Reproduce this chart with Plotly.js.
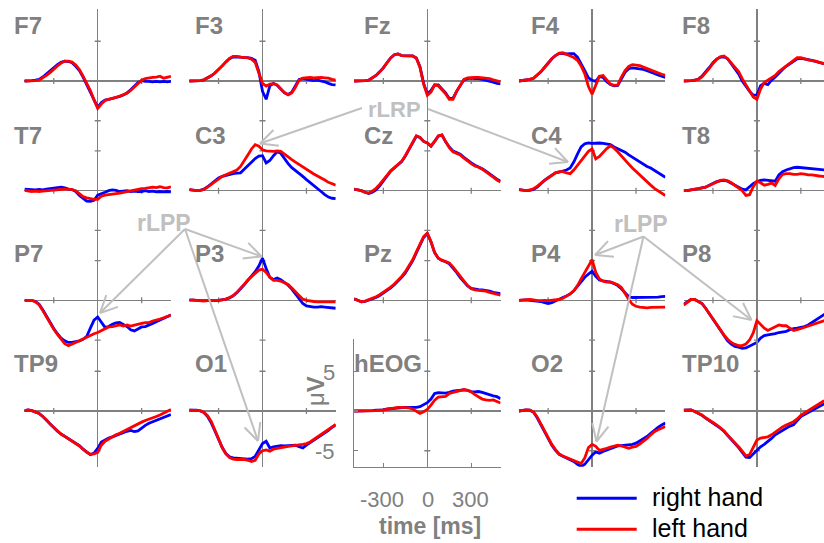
<!DOCTYPE html>
<html>
<head>
<meta charset="utf-8">
<script src="https://cdn.plot.ly/plotly-3.0.1.min.js"></script>
<style>
  html, body { margin: 0; padding: 0; background: #ffffff; }
  #chart { width: 824px; height: 543px; }
</style>
</head>
<body>
<div id="chart"></div>
<script>
// Time axis of the averaged epochs (ms, response-locked)
const time = [-500,-475,-450,-425,-400,-375,-350,-325,-300,-275,-250,-225,-200,-175,-150,-125,-100,-75,-50,-25,0,
              25,50,75,100,125,150,175,200,225,250,275,300,325,350,375,400,425,450,475,500];

// Electrode layout, row by row
const channels = ['F7','F3','Fz','F4','F8',
                  'T7','C3','Cz','C4','T8',
                  'P7','P3','Pz','P4','P8',
                  'TP9','O1','hEOG','O2','TP10'];

// Grand-average amplitudes (µV)
const F7_right = [0,0,0.05,0.1,0.2,0.5,0.9,1.3,1.7,2.05, 2.35,2.5,2.45,2.3,1.85,1.3,0.5,-0.4,-1.3,-2.3, -3.3, -2.7,-2.4,-2.3,-2.2,-2.1,-1.95,-1.75,-1.5,-1.1,-0.6, -0.2,0.05,-0.05,-0.05,-0.1,-0.05,-0.1,-0.05,-0.1,-0.05];
const F7_left  = [0,0,0,0.05,0.1,0.35,0.7,1.05,1.5,1.9, 2.25,2.5,2.5,2.4,2.0,1.45,0.6,-0.3,-1.2,-2.4, -3.45, -2.9,-2.45,-2.3,-2.2,-2.05,-1.9,-1.75,-1.55,-1.2,-0.75, -0.35,0.1,0.3,0.4,0.45,0.5,0.6,0.35,0.5,0.6];
const F3_right = [0,0,0,0.05,0.15,0.35,0.65,1.0,1.4,1.9, 2.4,2.8,3.05,3.05,3.0,2.95,2.95,2.85,2.6,1.2, -1.3, -2.3,-0.6,-0.3,-0.55,-1.0,-1.5,-1.7,-1.4,-0.6,0.2, 0.3,0.2,0.1,0.05,0.1,0.0,-0.1,-0.3,-0.45,-0.5];
const F3_left  = [0,0,0,0.05,0.15,0.35,0.65,1.0,1.4,1.9, 2.4,2.85,3.1,3.1,3.0,2.95,2.9,2.75,2.35,1.0, -0.3, -0.65,-0.4,-0.35,-0.5,-1.0,-1.45,-1.75,-1.5,-0.8,0.1, 0.35,0.4,0.45,0.4,0.45,0.45,0.4,0.35,0.2,0.1];
const Fz_right = [0,0,0,0.05,0.1,0.35,0.7,1.15,1.65,2.3, 2.9,3.3,3.4,3.2,3.15,3.15,3.15,2.9,1.8,-0.3, -1.6, -1.2,-0.5,-0.5,-1.0,-1.5,-2.2,-2.2,-1.3,-0.5,0.15, 0.3,0.35,0.3,0.3,0.2,0.1,0.0,-0.15,-0.3,-0.35];
const Fz_left  = [0,0,0,0.05,0.1,0.35,0.7,1.15,1.65,2.3, 2.9,3.3,3.4,3.2,3.15,3.15,3.15,2.9,1.7,-0.4, -1.8, -1.4,-0.5,-0.6,-1.1,-1.6,-2.3,-2.3,-1.3,-0.5,0.2, 0.4,0.45,0.45,0.45,0.4,0.35,0.3,0.15,0.0,-0.1];
const F4_right = [0,0.05,0.1,0.2,0.35,0.7,1.15,1.7,2.3,2.8, 3.2,3.45,3.45,3.4,3.45,3.45,3.0,2.2,1.3,0.4, 0.1, -0.05,0.55,0.45,-0.1,-0.45,-0.6,-0.55,0.3,1.1,1.55, 1.65,1.6,1.55,1.45,1.3,1.15,0.95,0.75,0.55,0.45];
const F4_left  = [0,0.05,0.1,0.2,0.35,0.7,1.15,1.7,2.3,2.8, 3.2,3.5,3.55,3.35,3.15,2.95,2.6,1.9,0.9,-0.7, -1.65, -0.5,0.6,0.7,0.1,-0.4,-0.55,-0.5,0.5,1.3,1.85, 2.05,2.0,1.95,1.75,1.55,1.4,1.2,1.0,0.85,0.7];
const F8_right = [0,0,0.05,0.1,0.25,0.6,1.1,1.7,2.3,2.75, 3.0,3.05,2.8,2.2,1.6,0.9,0.0,-0.7,-1.3,-1.8, -1.75, -0.6,-0.3,-0.45,0.1,0.5,1.0,1.45,1.85,2.2,2.55, 2.8,2.85,2.8,2.7,2.6,2.5,2.35,2.2,2.1,2.0];
const F8_left  = [0,0,0.05,0.1,0.2,0.5,1.0,1.6,2.2,2.7, 3.05,3.15,2.8,2.3,1.75,1.2,0.3,-0.5,-1.3,-2.0, -2.3, -1.0,-0.2,0.1,0.3,0.7,1.2,1.55,1.95,2.35,2.7, 2.95,2.95,2.75,2.65,2.55,2.5,2.35,2.2,2.1,2.0];

const T7_right = [0.2,0.15,0.1,0.1,0.15,0.1,0.2,0.25,0.3,0.4, 0.45,0.35,0.2,0.15,-0.1,-0.6,-1.0,-1.3,-1.35,-1.2, -0.55, -0.4,-0.2,0.0,0.1,0.05,-0.1,-0.05,0.0,-0.1,-0.05, -0.1,-0.1,0.0,-0.1,-0.05,-0.15,-0.1,-0.15,-0.1,-0.15];
const T7_left  = [0.05,0.0,-0.1,-0.05,-0.1,-0.05,0.0,0.0,0.1,0.15, 0.2,0.2,0.2,0.15,0.0,-0.4,-0.75,-0.9,-1.0,-1.1, -1.1, -0.7,-0.55,-0.5,-0.45,-0.35,-0.3,-0.2,-0.1,0.0,0.1, 0.2,0.25,0.3,0.4,0.45,0.4,0.5,0.4,0.35,0.5];
const C3_right = [0.15,0.05,0.0,0.05,0.2,0.5,0.9,1.3,1.6,1.8, 1.95,2.05,2.15,2.2,2.25,2.7,3.15,3.6,4.05,4.35, 4.4, 3.5,3.8,4.4,4.9,4.7,4.0,3.4,2.9,2.55,2.25, 1.8,1.4,1.05,0.65,0.25,-0.1,-0.5,-0.8,-0.95,-1.0];
const C3_left  = [0.15,0.05,0.0,0.05,0.15,0.45,0.8,1.15,1.5,1.8, 2.0,2.2,2.4,2.6,3.05,3.7,4.5,5.25,5.8,5.6, 5.15, 5.0,4.95,4.95,5.0,4.95,4.6,4.2,3.9,3.6,3.3, 2.95,2.6,2.35,2.1,1.85,1.65,1.35,1.05,0.85,0.7];
const Cz_right = [0.2,0.1,0.0,-0.2,-0.35,-0.2,0.1,0.6,1.2,1.85, 2.45,2.85,3.25,3.65,4.35,5.15,5.95,6.85,6.7,6.2, 6.0, 5.6,6.2,6.85,7.0,6.15,5.5,5.0,4.8,4.6,4.2, 3.8,3.5,3.2,3.0,2.75,2.45,2.1,1.75,1.45,1.2];
const Cz_left  = [0.2,0.1,0.0,-0.2,-0.3,-0.05,0.3,0.8,1.4,2.0, 2.5,2.9,3.3,3.7,4.4,5.2,6.0,6.9,6.7,6.2, 6.0, 5.6,6.2,6.9,7.0,6.1,5.4,4.9,4.7,4.5,4.1, 3.7,3.4,3.1,2.95,2.7,2.4,2.05,1.7,1.35,1.1];
const C4_right = [0.15,0.05,0.0,0.05,0.15,0.45,0.9,1.3,1.65,2.0, 2.25,2.35,2.45,2.6,2.85,3.6,4.6,5.5,5.9,6.0, 5.95, 6.0,6.0,5.95,5.9,5.8,5.5,5.3,5.1,4.85,4.5, 4.2,3.85,3.55,3.3,3.05,2.85,2.55,2.2,1.9,1.7];
const C4_left  = [0.15,0.05,0.0,0.1,0.25,0.55,0.95,1.3,1.6,1.95, 2.25,2.4,2.4,2.25,2.15,2.6,3.2,3.85,4.4,4.95, 5.25, 4.0,4.3,4.8,5.3,5.65,5.35,4.9,4.35,3.85,3.35, 2.85,2.4,1.95,1.5,1.1,0.7,0.3,0.0,-0.3,-0.6];
const T8_right = [0.0,0.0,0.1,0.15,0.25,0.35,0.45,0.7,0.95,1.15, 1.25,1.3,1.2,0.95,0.7,0.4,0.2,0.1,0.5,0.9, 1.15, 1.3,1.35,1.3,1.25,1.2,2.0,2.4,2.6,2.75,2.9, 2.95,2.9,2.85,2.8,2.7,2.65,2.6,2.6,2.6,2.6];
const T8_left  = [0.0,0.0,0.1,0.15,0.25,0.35,0.45,0.65,0.9,1.1, 1.3,1.35,1.25,1.0,0.65,0.35,0.0,-0.6,-0.5,0.5, 1.2, 1.0,0.7,0.8,0.95,0.65,1.5,2.05,2.15,2.15,2.05, 2.05,2.15,2.1,2.0,2.0,1.9,1.85,1.8,1.75,1.7];

const P7_right = [0,0,0,-0.15,-0.5,-1.2,-2.0,-2.8,-3.55,-4.2, -4.75,-5.1,-5.3,-5.3,-5.2,-5.1,-4.9,-4.55,-3.5,-2.5, -2.1, -2.8,-3.4,-3.3,-3.0,-2.85,-2.8,-3.05,-3.3,-3.7,-3.85, -3.6,-3.35,-3.3,-3.15,-2.9,-2.7,-2.5,-2.25,-2.0,-1.85];
const P7_left  = [0,0,0,-0.2,-0.55,-1.3,-2.1,-2.9,-3.65,-4.3, -4.95,-5.45,-5.7,-5.55,-5.3,-5.1,-4.85,-4.6,-4.4,-4.2, -4.05, -3.8,-3.5,-3.35,-3.3,-3.2,-3.1,-3.25,-3.1,-3.25,-3.1, -3.0,-2.9,-2.8,-2.8,-2.6,-2.5,-2.35,-2.2,-2.0,-1.85];
const P3_right = [0.05,0.05,0.0,-0.05,-0.05,-0.05,-0.1,-0.05,0.0,0.05, 0.15,0.3,0.55,0.95,1.4,1.95,2.5,3.0,3.6,4.3, 5.3, 4.0,2.9,2.6,2.8,2.6,2.3,1.9,1.4,0.8,0.25, -0.4,-0.7,-0.8,-0.85,-0.85,-0.8,-0.85,-0.9,-1.0,-1.0];
const P3_left  = [0.0,0.05,0.0,-0.05,-0.1,-0.05,-0.05,0.0,0.0,0.05, 0.15,0.35,0.6,1.0,1.45,2.0,2.55,2.95,3.4,3.8, 3.9, 3.5,2.9,2.5,2.5,2.4,2.2,2.0,1.55,1.05,0.55, 0.15,0.0,-0.1,-0.15,-0.2,-0.2,-0.2,-0.2,-0.25,-0.2];
const Pz_right = [0.2,0.0,-0.2,-0.15,0.0,0.15,0.35,0.6,0.9,1.2, 1.55,1.95,2.4,2.9,3.45,4.15,4.95,5.95,7.0,7.9, 8.4, 7.35,6.0,5.3,5.0,4.85,4.6,4.1,3.5,2.85,2.3, 1.8,1.5,1.4,1.35,1.3,1.25,1.15,1.0,0.9,0.85];
const Pz_left  = [0.2,0.0,-0.2,-0.1,0.05,0.2,0.45,0.7,1.0,1.3, 1.65,2.05,2.5,3.0,3.6,4.3,5.1,6.1,7.1,8.0, 8.45, 7.4,6.0,5.3,5.05,4.9,4.7,4.2,3.6,2.9,2.35, 1.85,1.45,1.3,1.25,1.2,1.15,1.0,0.9,0.75,0.65];
const P4_right = [0.0,0.05,0.05,0.0,-0.05,-0.1,-0.15,-0.3,-0.4,-0.3, -0.05,0.15,0.35,0.55,0.8,1.2,1.75,2.4,2.9,3.3, 3.65, 3.0,2.55,2.45,2.35,2.3,2.1,1.85,1.45,0.9,0.45, 0.35,0.35,0.4,0.35,0.35,0.4,0.35,0.4,0.45,0.5];
const P4_left  = [0.0,0.05,0.1,0.1,0.05,-0.05,-0.05,0.0,-0.05,0.0, 0.0,0.1,0.25,0.5,0.8,1.2,1.85,2.7,3.5,4.3, 5.1, 3.5,2.7,2.4,2.3,2.3,2.15,1.95,1.6,0.8,0.1, -0.5,-0.75,-0.85,-0.9,-0.95,-0.9,-0.9,-0.85,-0.9,-0.85];
const P8_right = [-0.5,-0.15,0.1,0.1,-0.1,-0.4,-1.0,-1.7,-2.45,-3.1, -3.8,-4.5,-5.1,-5.5,-5.8,-5.9,-6.05,-6.0,-5.8,-5.55, -5.3, -4.75,-4.45,-4.35,-4.3,-4.2,-4.05,-3.95,-3.9,-3.7,-3.55, -3.5,-3.4,-3.3,-3.1,-2.8,-2.5,-2.2,-1.8,-1.6,-1.5];
const P8_left  = [-0.6,-0.2,0.1,0.1,-0.1,-0.4,-1.0,-1.7,-2.4,-3.0, -3.65,-4.35,-4.9,-5.3,-5.55,-5.7,-5.7,-5.5,-5.0,-4.1, -2.55, -3.0,-3.5,-3.8,-3.6,-3.3,-3.1,-3.2,-3.2,-3.5,-3.8, -3.7,-3.55,-3.4,-3.25,-3.1,-2.9,-2.7,-2.55,-2.4,-2.3];

const TP9_right = [0.05,0.15,0.05,-0.1,-0.3,-0.7,-1.15,-1.7,-2.15,-2.55, -2.9,-3.2,-3.45,-3.7,-4.0,-4.35,-4.8,-5.2,-5.5,-5.3, -4.7, -3.9,-3.6,-3.4,-3.25,-3.05,-2.9,-2.7,-2.55,-2.45,-2.6, -2.5,-2.1,-1.8,-1.55,-1.35,-1.15,-0.95,-0.75,-0.55,-0.45];
const TP9_left  = [0.05,0.15,0.05,-0.1,-0.3,-0.7,-1.1,-1.65,-2.1,-2.5, -2.9,-3.2,-3.5,-3.75,-4.05,-4.4,-4.8,-5.2,-5.45,-5.4, -5.2, -4.3,-3.8,-3.5,-3.3,-3.0,-2.8,-2.55,-2.35,-2.1,-1.85, -1.6,-1.4,-1.2,-1.05,-0.85,-0.7,-0.5,-0.3,-0.1,0.2];
const O1_right = [0.1,0.1,0.1,0.0,-0.2,-0.7,-1.5,-2.5,-3.6,-4.6, -5.35,-5.75,-5.9,-5.95,-6.0,-6.0,-6.05,-6.0,-5.7,-4.9, -4.1, -3.8,-4.65,-4.5,-4.4,-4.35,-4.4,-4.35,-4.3,-4.3,-4.5, -4.65,-4.3,-4.0,-3.7,-3.4,-3.1,-2.8,-2.45,-2.05,-1.75];
const O1_left  = [0.1,0.1,0.1,0.05,-0.15,-0.6,-1.3,-2.3,-3.5,-4.6, -5.4,-5.85,-6.05,-6.1,-6.1,-6.1,-6.2,-6.35,-6.2,-5.4, -5.0, -4.9,-5.05,-4.8,-4.7,-4.6,-4.5,-4.45,-4.4,-4.3,-4.25, -4.2,-4.1,-3.9,-3.6,-3.3,-3.0,-2.7,-2.4,-2.0,-1.7];
const hEOG_right = [0,0,0,0.05,0.05,0.05,0.1,0.1,0.15,0.25, 0.3,0.35,0.4,0.45,0.45,0.45,0.45,0.45,0.55,0.8, 1.05, 1.5,2.2,2.3,2.3,2.25,2.35,2.5,2.55,2.6,2.65, 2.6,2.45,2.4,2.45,2.35,2.2,2.0,1.9,1.8,1.55];
const hEOG_left  = [0,0,0,0,0.05,0,0.05,0.1,0.1,0.2, 0.3,0.4,0.45,0.45,0.45,0.4,0.25,0.0,-0.3,-0.1, 0.2, 0.75,1.35,1.75,1.8,1.85,2.2,2.35,2.45,2.6,2.7, 2.6,2.4,2.05,1.75,1.5,1.4,1.35,1.4,1.15,1.0];
const O2_right = [0,0.05,0.15,0.1,-0.15,-0.85,-1.75,-2.65,-3.55,-4.3, -4.95,-5.45,-5.7,-5.9,-6.1,-6.35,-6.7,-7.0,-6.7,-6.1, -5.55, -5.15,-5.3,-5.1,-4.9,-4.7,-4.55,-4.4,-4.35,-4.3,-4.3, -4.2,-4.05,-3.8,-3.55,-3.2,-2.8,-2.4,-2.05,-1.75,-1.5];
const O2_left  = [0,0.05,0.15,0.1,-0.1,-0.75,-1.65,-2.55,-3.45,-4.2, -4.85,-5.4,-5.65,-5.85,-6.05,-6.25,-6.45,-6.6,-5.9,-4.6, -4.2, -4.45,-4.95,-4.85,-4.7,-4.55,-4.4,-4.3,-4.4,-4.6,-4.7, -4.55,-4.45,-4.15,-3.85,-3.45,-3.0,-2.6,-2.35,-2.1,-1.95];
const TP10_right = [0.1,0.15,0.15,-0.05,-0.25,-0.55,-0.9,-1.2,-1.5,-1.8, -2.15,-2.55,-3.05,-3.55,-4.05,-4.6,-5.2,-5.8,-5.85,-5.4, -4.95, -4.5,-4.2,-3.85,-3.45,-3.0,-2.7,-2.4,-2.1,-1.9,-1.75, -1.2,-0.7,-0.45,-0.2,0.1,0.35,0.6,0.9,1.1,1.3];
const TP10_left  = [0.1,0.15,0.15,-0.05,-0.25,-0.5,-0.85,-1.2,-1.45,-1.75, -2.1,-2.5,-3.05,-3.5,-4.0,-4.5,-5.05,-5.65,-5.5,-4.5, -3.65, -3.4,-3.3,-3.25,-3.0,-2.65,-2.35,-2.0,-1.75,-1.55,-1.35, -1.0,-0.55,-0.25,0.05,0.35,0.6,0.85,1.2,1.4,1.6];

const rightHand = {F7:F7_right,F3:F3_right,Fz:Fz_right,F4:F4_right,F8:F8_right,
  T7:T7_right,C3:C3_right,Cz:Cz_right,C4:C4_right,T8:T8_right,
  P7:P7_right,P3:P3_right,Pz:Pz_right,P4:P4_right,P8:P8_right,
  TP9:TP9_right,O1:O1_right,hEOG:hEOG_right,O2:O2_right,TP10:TP10_right};
const leftHand = {F7:F7_left,F3:F3_left,Fz:Fz_left,F4:F4_left,F8:F8_left,
  T7:T7_left,C3:C3_left,Cz:Cz_left,C4:C4_left,T8:T8_left,
  P7:P7_left,P3:P3_left,Pz:Pz_left,P4:P4_left,P8:P8_left,
  TP9:TP9_left,O1:O1_left,hEOG:hEOG_left,O2:O2_left,TP10:TP10_left};

// ---- page geometry (pixels) ----
const W = 824, H = 543;
const colZeroX = [97.7, 262.5, 427.3, 592.1, 756.9];   // x position of t = 0 in each column
const rowZeroY = [81, 190.7, 300.3, 411];              // y position of 0 µV in each row
const pxPerMs = 0.1465, pxPerUv = 7.95;
const yMin = -7, yMax = 9;
const labelX = [11.5, 193, 362, 528.5, 680];
const labelY = [25.5, 135, 253, 363];

const AXIS = '#808080', GUIDE = '#c0c0c0';
const FONT = 'Liberation Sans, Arial, Helvetica, sans-serif';
const px = x => x / W;
const py = y => 1 - y / H;

const data = [], shapes = [], annotations = [];
const layout = {
  width: W, height: H,
  margin: {l: 0, r: 0, t: 0, b: 0},
  paper_bgcolor: '#ffffff', plot_bgcolor: 'rgba(0,0,0,0)',
  showlegend: false, hovermode: false,
  font: {family: FONT}
};

channels.forEach((ch, i) => {
  const r = Math.floor(i / 5), c = i % 5, n = i + 1;
  const id = n === 1 ? '' : String(n);
  const cx = colZeroX[c], cy = rowZeroY[r];
  const xRight = Math.min(500, (W - cx) / pxPerMs);
  const isEog = ch === 'hEOG';

  layout['xaxis' + id] = {
    domain: [px(cx - 500 * pxPerMs), Math.min(1, px(cx + xRight * pxPerMs))],
    range: [-500, xRight], anchor: 'y' + id,
    showgrid: false, zeroline: true, zerolinecolor: AXIS, zerolinewidth: 1.3,
    showticklabels: false, fixedrange: true,
    showline: isEog, linecolor: AXIS, linewidth: 1.3,
    ticks: isEog ? 'inside' : '', tickvals: [-300, 0, 300], ticklen: 4, tickwidth: 1.3, tickcolor: AXIS
  };
  layout['yaxis' + id] = {
    domain: [py(cy - yMin * pxPerUv), py(cy - yMax * pxPerUv)],
    range: [yMin, yMax], anchor: 'x' + id,
    showgrid: false, zeroline: true, zerolinecolor: AXIS, zerolinewidth: 1.3,
    showticklabels: false, fixedrange: true,
    showline: isEog, linecolor: AXIS, linewidth: 1.3,
    ticks: isEog ? 'inside' : '', tickvals: [-5, 0, 5], ticklen: 4, tickwidth: 1.3, tickcolor: AXIS
  };

  // tick marks on the axes through the origin
  [-300, 300].forEach(t => shapes.push({type: 'line', xref: 'x' + id, yref: 'y' + id,
    x0: t, x1: t, ysizemode: 'pixel', yanchor: 0, y0: -3, y1: 3,
    line: {color: AXIS, width: 1.3}, layer: 'below'}));
  [-5, 5].forEach(v => shapes.push({type: 'line', xref: 'x' + id, yref: 'y' + id,
    y0: v, y1: v, xsizemode: 'pixel', xanchor: 0, x0: -3, x1: 3,
    line: {color: AXIS, width: 1.3}, layer: 'below'}));

  data.push({type: 'scatter', mode: 'lines', name: 'right hand', x: time, y: rightHand[ch],
    xaxis: 'x' + id, yaxis: 'y' + id, line: {color: '#0000ff', width: 2.8}});
  data.push({type: 'scatter', mode: 'lines', name: 'left hand', x: time, y: leftHand[ch],
    xaxis: 'x' + id, yaxis: 'y' + id, line: {color: '#ff0000', width: 2.8}});

  annotations.push({xref: 'paper', yref: 'paper', x: px(isEog ? 352 : labelX[c]), y: py(labelY[r]),
    xanchor: 'left', yanchor: 'middle', showarrow: false, text: '<b>' + ch + '</b>',
    font: {family: FONT, size: 24, color: AXIS}});
});

// scale labels of the hEOG panel
const xTickLabels = ['-300', '0', '300'];
const xTickPos = [381.5, 427.5, 470.3];
xTickLabels.forEach((t, k) => annotations.push({xref: 'paper', yref: 'paper', x: px(xTickPos[k]), y: py(499.5),
  xanchor: 'center', yanchor: 'middle', showarrow: false, text: t, font: {family: FONT, size: 22, color: AXIS}}));
annotations.push({xref: 'paper', yref: 'paper', x: px(430), y: py(525.5), xanchor: 'center', yanchor: 'middle',
  showarrow: false, text: '<b>time [ms]</b>', font: {family: FONT, size: 23, color: AXIS}});
const yTickLabels = ['5', '-5'];
const yTickPos = [372, 451.5];
yTickLabels.forEach((t, k) => annotations.push({xref: 'paper', yref: 'paper', x: px(337), y: py(yTickPos[k]),
  xanchor: 'right', yanchor: 'middle', showarrow: false, text: t, font: {family: FONT, size: 22, color: AXIS}}));
annotations.push({xref: 'paper', yref: 'paper', x: px(315.5), y: py(391.5), xanchor: 'center', yanchor: 'middle',
  textangle: -90, showarrow: false, text: 'μ<b>V</b>', font: {family: FONT, size: 24, color: AXIS}});

// component call-outs
function seg(x0, y0, x1, y1) {
  shapes.push({type: 'line', xref: 'paper', yref: 'paper', x0: px(x0), y0: py(y0), x1: px(x1), y1: py(y1),
    line: {color: GUIDE, width: 2}, layer: 'above'});
}
function pointer(sx, sy, tx, ty) {
  seg(sx, sy, tx, ty);
  const ang = Math.atan2(sy - ty, sx - tx), len = 19, spread = 26 * Math.PI / 180;
  [-1, 1].forEach(s => seg(tx, ty, tx + len * Math.cos(ang + s * spread), ty + len * Math.sin(ang + s * spread)));
}
const callouts = [
  {text: 'rLRP', x: 394.5, y: 109, size: 22},
  {text: 'rLPP', x: 164, y: 223, size: 23},
  {text: 'rLPP', x: 641, y: 223.5, size: 23}
];
callouts.forEach(cl => annotations.push({xref: 'paper', yref: 'paper', x: px(cl.x), y: py(cl.y),
  xanchor: 'center', yanchor: 'middle', showarrow: false, text: '<b>' + cl.text + '</b>',
  font: {family: FONT, size: cl.size, color: GUIDE}}));
pointer(362, 108, 260, 143.5);
pointer(428, 109, 568, 162);
pointer(185, 229, 100, 313);
pointer(185, 229, 261.5, 256.5);
pointer(185, 229, 258, 441);
pointer(643.5, 236.5, 595, 255);
pointer(643.5, 236.5, 751.5, 320);
pointer(643.5, 236.5, 596.5, 441.5);

// legend
const legendItems = [{name: 'right hand', color: '#0000ff', y: 498.3}, {name: 'left hand', color: '#ff0000', y: 529.3}];
legendItems.forEach(it => {
  shapes.push({type: 'line', xref: 'paper', yref: 'paper', x0: px(576.7), x1: px(636.7), y0: py(it.y), y1: py(it.y),
    line: {color: it.color, width: 3}, layer: 'above'});
  annotations.push({xref: 'paper', yref: 'paper', x: px(649.5), y: py(it.y - 1), xanchor: 'left', yanchor: 'middle',
    showarrow: false, text: it.name, font: {family: FONT, size: 25, color: '#000000'}});
});

layout.shapes = shapes;
layout.annotations = annotations;
Plotly.newPlot('chart', data, layout, {staticPlot: true, displayModeBar: false});
</script>
</body>
</html>
